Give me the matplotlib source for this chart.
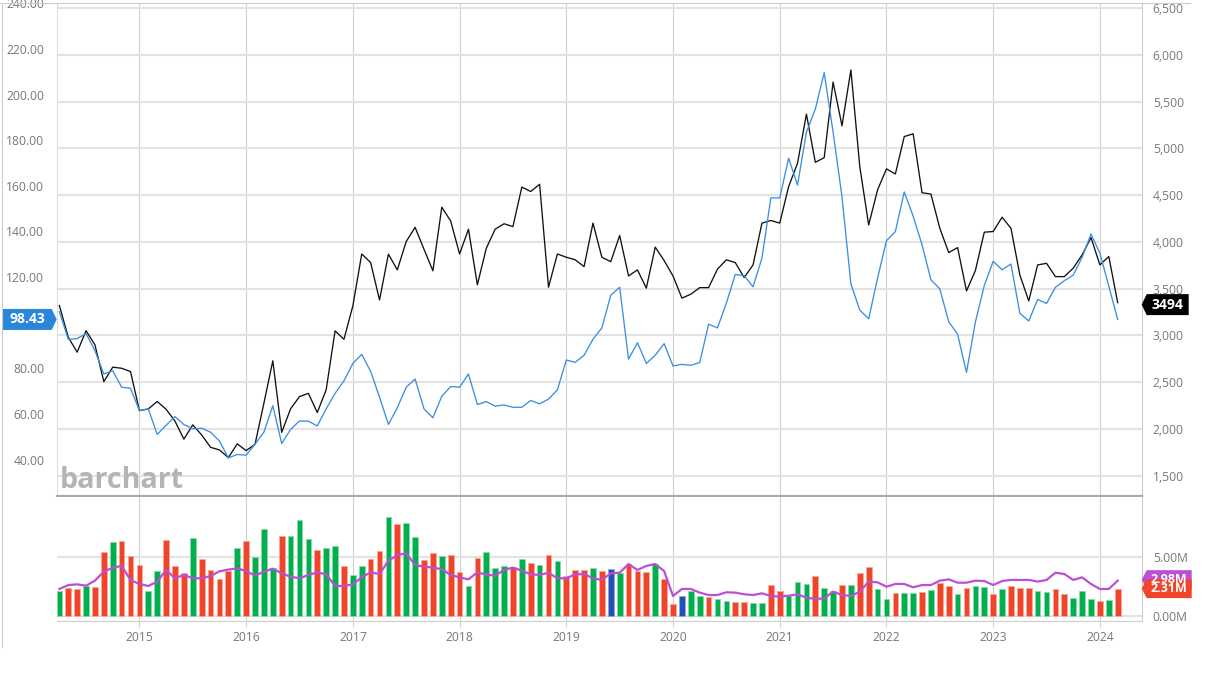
import numpy as np
import pandas as pd
import matplotlib
matplotlib.use("Agg")
import matplotlib.pyplot as plt
from matplotlib.patches import Polygon
from matplotlib.lines import Line2D
from matplotlib.transforms import IdentityTransform, blended_transform_factory

plt.rcParams['font.family'] = ['Open Sans', 'DejaVu Sans']

# monthly data, Apr 2014 .. Mar 2024
months = pd.period_range("2014-04", periods=120, freq="M")

# blue line, left axis
blue = [104.8, 92.7, 93.0, 95.2, 87.7, 77.5, 78.9, 71.7, 71.2, 61.5,
        62.2, 51.0, 55.0, 58.8, 55.3, 53.5, 53.7, 52.0, 48.1, 40.7,
        42.2, 41.9, 46.7, 52.0, 63.6, 47.0, 53.2, 56.9, 56.8, 54.7,
        62.2, 69.0, 74.5, 82.1, 86.1, 78.6, 67.3, 55.4, 62.7, 71.7,
        75.3, 62.2, 58.3, 67.7, 72.0, 71.7, 77.5, 64.1, 65.4, 63.4,
        63.9, 62.9, 62.9, 65.9, 64.4, 66.5, 70.5, 83.6, 82.6, 85.7,
        92.7, 97.7, 112.0, 115.5, 84.0, 91.2, 82.1, 85.7, 90.8, 81.0,
        81.7, 81.3, 82.5, 99.3, 97.7, 108.6, 121.1, 120.6, 115.7, 128.3,
        154.7, 154.7, 172.1, 160.3, 183.5, 193.6, 209.6, 183.5, 155.2, 117.0,
        105.5, 101.7, 119.5, 135.9, 139.9, 157.3, 146.7, 134.1, 118.8, 114.8,
        100.4, 94.9, 78.2, 100.3, 116.3, 126.9, 123.2, 125.7, 104.1, 100.7,
        110.2, 108.4, 115.5, 118.4, 120.8, 128.6, 138.9, 130.4, 116.0, 101.4]

# black line, right axis
black = [3318, 2980, 2820, 3050, 2898, 2505, 2660, 2648, 2613, 2195,
         2213, 2293, 2210, 2083, 1890, 2043, 1935, 1803, 1775, 1693,
         1840, 1768, 1835, 2275, 2728, 1963, 2215, 2345, 2380, 2175,
         2418, 3048, 2958, 3315, 3870, 3778, 3378, 3868, 3700, 4003,
         4155, 3920, 3690, 4370, 4223, 3870, 4135, 3540, 3930, 4135,
         4193, 4163, 4585, 4538, 4615, 3515, 3870, 3835, 3808, 3735,
         4200, 3835, 3788, 4068, 3635, 3700, 3505, 3943, 3800, 3635,
         3398, 3440, 3510, 3510, 3708, 3808, 3778, 3618, 3753, 4200,
         4228, 4200, 4590, 4840, 5365, 4850, 4900, 5708, 5240, 5838,
         4805, 4180, 4555, 4780, 4725, 5125, 5155, 4525, 4510, 4145,
         3885, 3938, 3475, 3693, 4103, 4110, 4263, 4145, 3645, 3368,
         3753, 3770, 3628, 3628, 3718, 3860, 4045, 3753, 3843, 3350]

# volume in millions
volume = [2.13, 2.33, 2.25, 2.53, 2.47, 5.42, 6.24, 6.32, 5.09, 4.27,
          2.13, 3.82, 6.41, 4.22, 3.65, 6.60, 4.81, 3.88, 3.09, 3.77,
          5.76, 6.32, 4.95, 7.34, 4.02, 6.77, 6.77, 8.09, 6.49, 5.54,
          5.71, 5.90, 4.24, 3.46, 4.19, 4.81, 5.48, 8.37, 7.73, 7.81,
          6.69, 4.72, 5.28, 5.06, 5.14, 3.71, 2.53, 4.92, 5.40, 4.02,
          4.22, 4.10, 4.81, 4.47, 4.30, 5.12, 4.61, 3.40, 3.88, 3.91,
          4.07, 3.77, 3.96, 3.65, 4.38, 3.77, 3.71, 4.38, 3.12, 1.01,
          1.66, 2.11, 1.69, 1.58, 1.43, 1.26, 1.15, 1.21, 1.07, 1.10,
          2.61, 2.13, 1.69, 2.89, 2.70, 3.37, 2.33, 2.13, 2.59, 2.61,
          3.65, 4.16, 2.25, 1.43, 1.97, 1.94, 1.94, 2.02, 2.19, 2.76,
          2.53, 1.85, 2.39, 2.53, 2.47, 1.88, 2.28, 2.53, 2.39, 2.39,
          2.11, 2.05, 2.25, 1.83, 1.54, 2.11, 1.46, 1.26, 1.35, 2.31]
vol_dir = ("GRRGRRGRRR" "GGRRRGRRRR" "GRGGGRGGGR" "GGRGGRRGRG"
           "GRRGRRGRGG" "GRGRGRGRRR" "GRBGRRRGRR" "BGGRGGRRGG"
           "RRGGGRGGRG" "RRGGRGGRGR" "RGRGGRGRRR" "GGRRGGGRGR")
vol_ma = [2.28, 2.61, 2.67, 2.56, 2.98, 3.74, 4.07, 4.22, 3.04, 2.70,
          2.53, 2.89, 3.88, 3.18, 3.46, 3.18, 3.18, 3.37, 3.77, 3.91,
          4.02, 3.79, 3.40, 3.74, 3.99, 3.60, 3.31, 3.18, 3.46, 3.68,
          3.51, 2.53, 2.53, 2.67, 3.26, 3.68, 3.54, 4.66, 5.14, 5.28,
          4.30, 4.16, 4.08, 3.94, 3.46, 3.26, 3.09, 3.68, 3.49, 3.40,
          3.88, 4.08, 3.82, 3.51, 3.46, 3.65, 3.18, 3.18, 3.51, 3.54,
          3.18, 3.04, 3.60, 3.65, 4.38, 3.88, 4.22, 4.38, 3.79, 1.69,
          2.28, 2.28, 1.97, 1.77, 1.77, 2.00, 1.97, 1.83, 1.77, 1.91,
          1.69, 1.63, 1.71, 1.83, 1.55, 1.43, 1.49, 2.05, 1.77, 1.69,
          2.05, 2.90, 2.84, 2.47, 2.70, 2.70, 2.42, 2.61, 2.61, 2.98,
          3.09, 2.81, 2.81, 2.98, 2.95, 2.61, 2.95, 3.04, 3.04, 3.04,
          2.90, 3.04, 3.65, 3.54, 3.04, 3.26, 2.70, 2.28, 2.28, 2.98]

blue_tag = "98.43"
black_tag = "3494"

left_ticks = list(range(40, 260, 20))
right_ticks = list(range(1500, 7000, 500))
vol_ticks = [0, 5]

dir_colors = {"G": "#00b04f", "R": "#f0452b", "B": "#2350b8"}
dir_edges = {"G": "#8fd9ab", "R": "#f7aa9a", "B": "#8fa6dc"}
grid_h = "#e3e3e3"
grid_v = "#d0d0d0"
txt = "#777777"

x = np.arange(len(months))
jan = [i for i, m in enumerate(months) if m.month == 1]

W, H = 1210, 673
fig = plt.figure(figsize=(W / 100, H / 100), dpi=100)

# price panel: black on the base axes (right scale, owns grid), blue on twin (left scale)
ax = fig.add_axes([56.7 / W, 1 - 496 / H, (1141.7 - 56.7) / W, (496 - 3.3) / H])
axb = ax.twinx()

ax.plot(x, black, color="#111111", lw=0.95, zorder=3)
ax.set_ylim(1282.5, 6550)
ax.set_xlim(-0.3, 121.7)
ax.set_yticks(right_ticks)
ax.set_yticklabels([f"{t:,}" for t in right_ticks])
ax.set_xticks(jan)
ax.set_axisbelow(True)
ax.grid(axis="y", color=grid_h, lw=1.5)
ax.grid(axis="x", color=grid_v, lw=0.8)
ax.tick_params(axis="y", length=0, pad=8, labelsize=8.7, labelcolor=txt,
               left=False, labelleft=False, right=True, labelright=True)
ax.tick_params(axis="x", length=0, labelbottom=False)
ax.spines["top"].set_visible(False)
ax.spines["left"].set_color("#dddddd")
ax.spines["left"].set_linewidth(0.8)
ax.spines["right"].set_color("#cccccc")
ax.spines["right"].set_linewidth(0.8)
ax.spines["bottom"].set_color("#aaaaaa")
ax.spines["bottom"].set_linewidth(1.6)
ax.text(0.003, 0.017, "barchart", transform=ax.transAxes, fontsize=20.6,
        fontweight="bold", color="#b4b4b4", va="baseline", ha="left")

axb.plot(x, blue, color="#3a8fe3", lw=0.95, zorder=3)
axb.set_ylim(24.0, 238.7)
axb.set_yticks(left_ticks)
# the tick label sitting under the last-value tag is covered in the original
axb.set_yticklabels(["" if abs(t - float(blue_tag)) < 5 else f"{t:.2f}" for t in left_ticks])
axb.tick_params(axis="y", length=0, pad=9, labelsize=8.7, labelcolor=txt,
                left=True, labelleft=True, right=False, labelright=False)
for s in axb.spines.values():
    s.set_visible(False)

# volume panel
axv = fig.add_axes([56.7 / W, 1 - 621 / H, (1141.7 - 56.7) / W, (621 - 497) / H], sharex=ax)
axv.bar(x, volume, width=0.64, color=[dir_colors[c] for c in vol_dir],
        edgecolor=[dir_edges[c] for c in vol_dir], linewidth=0.6, zorder=2)
axv.plot(x, vol_ma, color="#bb4fd6", lw=1.6, zorder=3)
axv.set_ylim(-0.42, 10.03)
axv.yaxis.set_ticks_position("right")
axv.set_yticks(vol_ticks)
axv.set_yticklabels([f"{t:.2f}M" for t in vol_ticks])
axv.set_xticks(jan)
axv.set_xticklabels([str(months[i].year) for i in jan])
axv.set_axisbelow(True)
axv.grid(axis="y", color=grid_h, lw=1.5)
axv.grid(axis="x", color=grid_v, lw=0.8)
axv.tick_params(axis="y", length=0, pad=8, labelsize=8.7, labelcolor=txt)
axv.tick_params(axis="x", length=4.5, width=0.8, color=grid_v, pad=3,
                labelsize=8.7, labelcolor=txt)
axv.spines["top"].set_visible(False)
axv.spines["left"].set_visible(False)
axv.spines["right"].set_color("#cccccc")
axv.spines["right"].set_linewidth(0.8)
axv.spines["bottom"].set_color("#d0d0d0")
axv.spines["bottom"].set_linewidth(0.8)

# outer frame lines
fig.add_artist(Line2D([0, 1190 / W], [1 - 3.3 / H] * 2, color="#cccccc", lw=0.8))
fig.add_artist(Line2D([1.7 / W] * 2, [1 - 3.3 / H, 1 - 647 / H], color="#cccccc", lw=0.8))


def tag(axis, xval, yval, text, fc, side, width, height=20, tip=5, size=10, dy=0):
    tr = blended_transform_factory(axis.transAxes, axis.transData)
    x0, y0 = tr.transform((xval, yval))
    y0 += dy
    h = height / 2
    if side == "left":
        pts = [(x0, y0), (x0 - tip, y0 - h), (x0 - width, y0 - h),
               (x0 - width, y0 + h), (x0 - tip, y0 + h)]
        cx = x0 - (width + tip) / 2
    else:
        pts = [(x0, y0), (x0 + tip, y0 + h), (x0 + width, y0 + h),
               (x0 + width, y0 - h), (x0 + tip, y0 - h)]
        cx = x0 + (width + tip) / 2
    fig.add_artist(Polygon(pts, closed=True, fc=fc, ec="none", transform=IdentityTransform()))
    fig.text(cx, y0, text, transform=IdentityTransform(), ha="center", va="center",
             color="white", fontsize=size, fontweight="bold")


tag(axb, 0, blue[-1], blue_tag, "#2a86d9", "left", 54, height=21)
tag(ax, 1, black[-1], black_tag, "#000000", "right", 47, height=21, dy=-2)
tag(axv, 1, vol_ma[-1], f"{vol_ma[-1]:.2f}M", "#bb4fd6", "right", 50, height=19, dy=1, size=9)
tag(axv, 1, volume[-1], f"{volume[-1]:.2f}M", "#f0452b", "right", 50, height=19, size=9)

fig.savefig("out.png", dpi=100)
